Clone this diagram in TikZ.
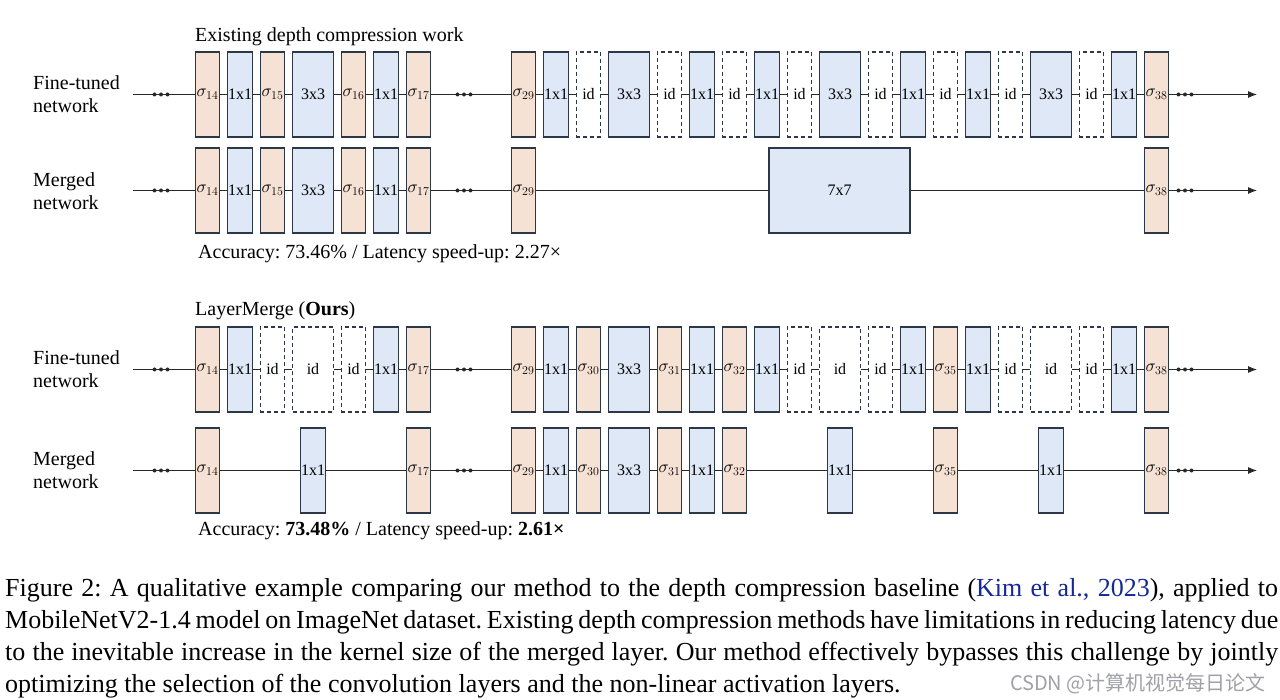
\documentclass[tikz,border=0pt]{standalone}
\usepackage{fontspec}
\setmainfont{Liberation Serif}
\newfontfamily\cjk{Noto Sans CJK SC}
\usetikzlibrary{arrows.meta}
\frenchspacing
\definecolor{actfill}{RGB}{246,226,213}
\definecolor{convfill}{RGB}{222,232,246}
\definecolor{boxdraw}{RGB}{44,56,72}
\definecolor{linecol}{RGB}{40,40,40}
\definecolor{citeblue}{RGB}{20,40,150}
\definecolor{wmgray}{RGB}{160,160,168}
\tikzset{
 blk/.style={draw=boxdraw, line width=1.2pt, inner sep=0pt, minimum height=85pt, font=\fontsize{16}{16}\selectfont},
 act/.style={blk, fill=actfill, minimum width=24.5pt, font=\fontsize{17}{17}\selectfont},
 conv/.style={blk, fill=convfill, minimum width=24.5pt},
 wconv/.style={blk, fill=convfill, minimum width=40.5pt},
 idb/.style={blk, fill=white, dash pattern=on 4pt off 3pt, minimum width=24.5pt},
 widb/.style={idb, minimum width=40.5pt},
 bigconv/.style={blk, fill=convfill, minimum width=141pt},
 wire/.style={draw=linecol, line width=1pt},
 tip/.style={-{Latex[length=9pt,width=7pt]}},
 dotsn/.style={inner sep=0pt, minimum width=20pt, minimum height=6pt, path picture={\fill[linecol,shift={(path picture bounding box.center)}] (-6.5pt,0) circle (2pt) (0,0) circle (2pt) (6.5pt,0) circle (2pt);}},
 lbl/.style={font=\fontsize{20}{23}\selectfont, align=left, anchor=west, inner sep=0pt},
 capline/.style={font=\fontsize{26}{32}\selectfont, anchor=base west, inner sep=0pt},
}
\begin{document}
\begin{tikzpicture}[x=1pt,y=-1pt]
\fill[white] (0,0) rectangle (1280,700);
\useasboundingbox (0,0) rectangle (1280,700);

% titles and labels
\node[lbl] (t1) at (195,37) {Existing depth compression work};
\node[lbl] (t2) at (195,311) {LayerMerge (\textbf{Ours})};
\node[lbl] (l1) at (33,94.5) {Fine-tuned\\network};
\node[lbl] (l2) at (33,191) {Merged\\network};
\node[lbl] (l3) at (33,369) {Fine-tuned\\network};
\node[lbl] (l4) at (33,470) {Merged\\network};
\node[lbl] (acc1) at (198,254) {Accuracy: 73.46\% / Latency speed-up: 2.27×};
\node[lbl] (acc2) at (198,531) {Accuracy: \textbf{73.48\%} / Latency speed-up: \textbf{2.61×}};

% ---------- Row 1 ----------
\node[act] (a1) at (207.5,94.5) {$\sigma_{14}$};
\node[conv] (a2) at (240,94.5) {1x1};
\node[act] (a3) at (272.5,94.5) {$\sigma_{15}$};
\node[wconv] (a4) at (313,94.5) {3x3};
\node[act] (a5) at (353.5,94.5) {$\sigma_{16}$};
\node[conv] (a6) at (386,94.5) {1x1};
\node[act] (a7) at (418.5,94.5) {$\sigma_{17}$};
\node[act] (a8) at (523.5,94.5) {$\sigma_{29}$};
\node[conv] (a9) at (556,94.5) {1x1};
\node[idb] (a10) at (588.5,94.5) {id};
\node[wconv] (a11) at (629,94.5) {3x3};
\node[idb] (a12) at (669.5,94.5) {id};
\node[conv] (a13) at (702,94.5) {1x1};
\node[idb] (a14) at (734.5,94.5) {id};
\node[conv] (a15) at (767,94.5) {1x1};
\node[idb] (a16) at (799.5,94.5) {id};
\node[wconv] (a17) at (840,94.5) {3x3};
\node[idb] (a18) at (880.5,94.5) {id};
\node[conv] (a19) at (913,94.5) {1x1};
\node[idb] (a20) at (945.5,94.5) {id};
\node[conv] (a21) at (978,94.5) {1x1};
\node[idb] (a22) at (1010.5,94.5) {id};
\node[wconv] (a23) at (1051,94.5) {3x3};
\node[idb] (a24) at (1091.5,94.5) {id};
\node[conv] (a25) at (1124,94.5) {1x1};
\node[act] (a26) at (1156.5,94.5) {$\sigma_{38}$};
\coordinate (as) at (133,94.5);
\node[dotsn] (ad1) at (161,94.5) {};
\node[dotsn] (ad2) at (464,94.5) {};
\node[dotsn] (ad3) at (1185,94.5) {};
\coordinate (ae) at (1257,94.5);
\draw[wire] (as) -- (ad1.center) -- (a1) -- (a2) -- (a3) -- (a4) -- (a5) -- (a6) -- (a7) -- (ad2.center) -- (a8) -- (a9) -- (a10) -- (a11) -- (a12) -- (a13) -- (a14) -- (a15) -- (a16) -- (a17) -- (a18) -- (a19) -- (a20) -- (a21) -- (a22) -- (a23) -- (a24) -- (a25) -- (a26) -- (ad3.center);
\draw[wire,tip] (ad3.center) -- (ae);

% ---------- Row 2 ----------
\node[act] (b1) at (207.5,190.5) {$\sigma_{14}$};
\node[conv] (b2) at (240,190.5) {1x1};
\node[act] (b3) at (272.5,190.5) {$\sigma_{15}$};
\node[wconv] (b4) at (313,190.5) {3x3};
\node[act] (b5) at (353.5,190.5) {$\sigma_{16}$};
\node[conv] (b6) at (386,190.5) {1x1};
\node[act] (b7) at (418.5,190.5) {$\sigma_{17}$};
\node[act] (b8) at (523.5,190.5) {$\sigma_{29}$};
\node[bigconv] (b9) at (839.5,190.5) {7x7};
\node[act] (b10) at (1156.5,190.5) {$\sigma_{38}$};
\coordinate (bs) at (133,190.5);
\node[dotsn] (bd1) at (161,190.5) {};
\node[dotsn] (bd2) at (464,190.5) {};
\node[dotsn] (bd3) at (1185,190.5) {};
\coordinate (be) at (1257,190.5);
\draw[wire] (bs) -- (bd1.center) -- (b1) -- (b2) -- (b3) -- (b4) -- (b5) -- (b6) -- (b7) -- (bd2.center) -- (b8) -- (b9) -- (b10) -- (bd3.center);
\draw[wire,tip] (bd3.center) -- (be);

% ---------- Row 3 ----------
\node[act] (c1) at (207.5,369.5) {$\sigma_{14}$};
\node[conv] (c2) at (240,369.5) {1x1};
\node[idb] (c3) at (272.5,369.5) {id};
\node[widb] (c4) at (313,369.5) {id};
\node[idb] (c5) at (353.5,369.5) {id};
\node[conv] (c6) at (386,369.5) {1x1};
\node[act] (c7) at (418.5,369.5) {$\sigma_{17}$};
\node[act] (c8) at (523.5,369.5) {$\sigma_{29}$};
\node[conv] (c9) at (556,369.5) {1x1};
\node[act] (c10) at (588.5,369.5) {$\sigma_{30}$};
\node[wconv] (c11) at (629,369.5) {3x3};
\node[act] (c12) at (669.5,369.5) {$\sigma_{31}$};
\node[conv] (c13) at (702,369.5) {1x1};
\node[act] (c14) at (734.5,369.5) {$\sigma_{32}$};
\node[conv] (c15) at (767,369.5) {1x1};
\node[idb] (c16) at (799.5,369.5) {id};
\node[widb] (c17) at (840,369.5) {id};
\node[idb] (c18) at (880.5,369.5) {id};
\node[conv] (c19) at (913,369.5) {1x1};
\node[act] (c20) at (945.5,369.5) {$\sigma_{35}$};
\node[conv] (c21) at (978,369.5) {1x1};
\node[idb] (c22) at (1010.5,369.5) {id};
\node[widb] (c23) at (1051,369.5) {id};
\node[idb] (c24) at (1091.5,369.5) {id};
\node[conv] (c25) at (1124,369.5) {1x1};
\node[act] (c26) at (1156.5,369.5) {$\sigma_{38}$};
\coordinate (cs) at (133,369.5);
\node[dotsn] (cd1) at (161,369.5) {};
\node[dotsn] (cd2) at (464,369.5) {};
\node[dotsn] (cd3) at (1185,369.5) {};
\coordinate (ce) at (1257,369.5);
\draw[wire] (cs) -- (cd1.center) -- (c1) -- (c2) -- (c3) -- (c4) -- (c5) -- (c6) -- (c7) -- (cd2.center) -- (c8) -- (c9) -- (c10) -- (c11) -- (c12) -- (c13) -- (c14) -- (c15) -- (c16) -- (c17) -- (c18) -- (c19) -- (c20) -- (c21) -- (c22) -- (c23) -- (c24) -- (c25) -- (c26) -- (cd3.center);
\draw[wire,tip] (cd3.center) -- (ce);

% ---------- Row 4 ----------
\node[act] (d1) at (207.5,470.5) {$\sigma_{14}$};
\node[conv] (d2) at (313,470.5) {1x1};
\node[act] (d3) at (418.5,470.5) {$\sigma_{17}$};
\node[act] (d4) at (523.5,470.5) {$\sigma_{29}$};
\node[conv] (d5) at (556,470.5) {1x1};
\node[act] (d6) at (588.5,470.5) {$\sigma_{30}$};
\node[wconv] (d7) at (629,470.5) {3x3};
\node[act] (d8) at (669.5,470.5) {$\sigma_{31}$};
\node[conv] (d9) at (702,470.5) {1x1};
\node[act] (d10) at (734.5,470.5) {$\sigma_{32}$};
\node[conv] (d11) at (840,470.5) {1x1};
\node[act] (d12) at (945.5,470.5) {$\sigma_{35}$};
\node[conv] (d13) at (1051,470.5) {1x1};
\node[act] (d14) at (1156.5,470.5) {$\sigma_{38}$};
\coordinate (ds) at (133,470.5);
\node[dotsn] (dd1) at (161,470.5) {};
\node[dotsn] (dd2) at (464,470.5) {};
\node[dotsn] (dd3) at (1185,470.5) {};
\coordinate (de) at (1257,470.5);
\draw[wire] (ds) -- (dd1.center) -- (d1) -- (d2) -- (d3) -- (dd2.center) -- (d4) -- (d5) -- (d6) -- (d7) -- (d8) -- (d9) -- (d10) -- (d11) -- (d12) -- (d13) -- (d14) -- (dd3.center);
\draw[wire,tip] (dd3.center) -- (de);

% ---------- Caption ----------
\node[capline] (cap1) at (5,596) {\hbox to 1273pt{Figure 2: A qualitative example comparing our method to the depth compression baseline (\textcolor{citeblue}{Kim et al., 2023}), applied to}};
\node[capline] (cap2) at (5,628) {\hbox to 1273pt{MobileNetV2-1.4 model on ImageNet dataset. Existing depth compression methods have limitations in reducing latency due}};
\node[capline] (cap3) at (5,660) {\hbox to 1273pt{to the inevitable increase in the kernel size of the merged layer. Our method effectively bypasses this challenge by jointly}};
\node[capline] (cap4) at (5,692) {optimizing the selection of the convolution layers and the non-linear activation layers.};

\node[anchor=east, inner sep=0pt, text=wmgray, font=\cjk\fontsize{20}{20}\selectfont] (wm) at (1266,684) {CSDN @计算机视觉每日论文};
\end{tikzpicture}
\end{document}
